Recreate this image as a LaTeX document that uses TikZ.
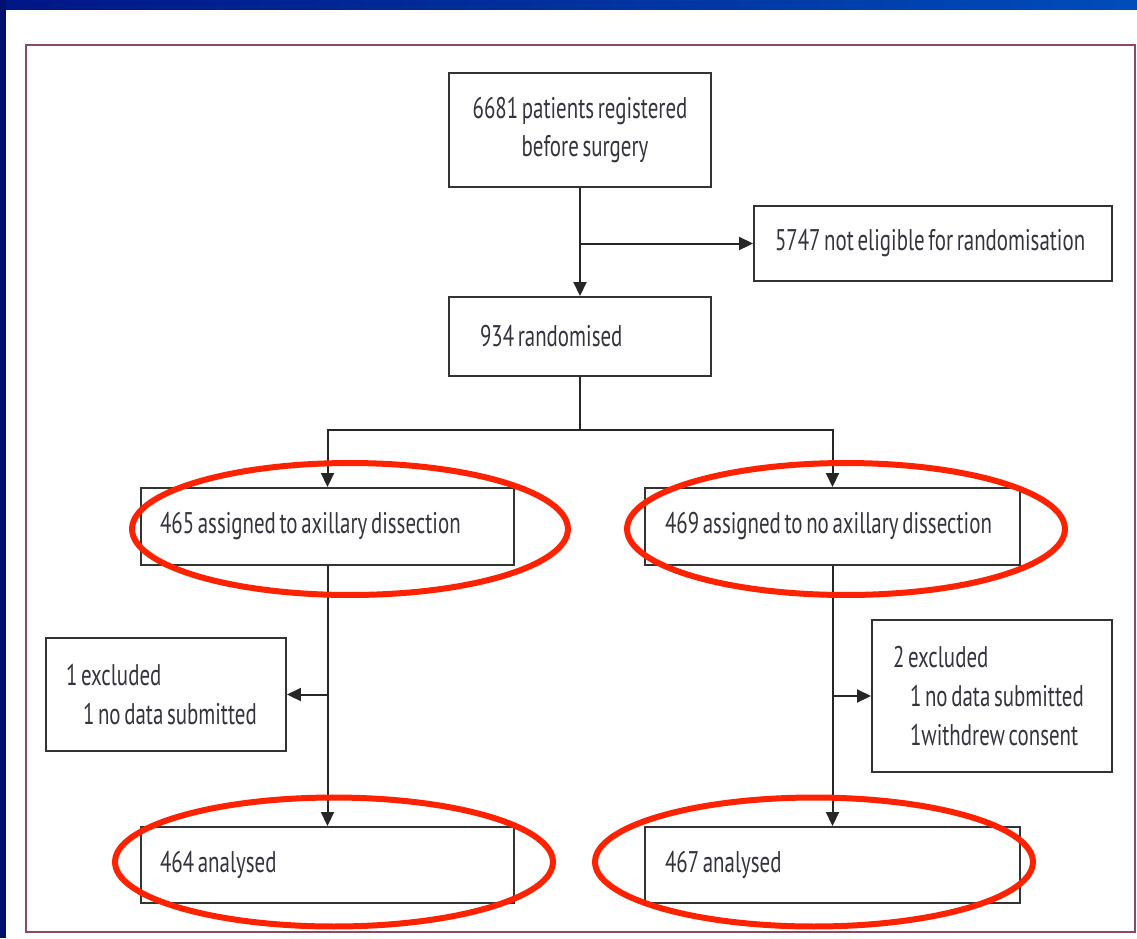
\documentclass[tikz,border=0pt]{standalone}
\usepackage{fontspec}
\setmainfont{PT Sans}[FakeStretch=0.7, WordSpace=0.65]
\usepackage{tikz}
\usetikzlibrary{arrows.meta, positioning, calc}
\definecolor{slideBlue}{HTML}{0020A8}
\definecolor{slideNavy}{HTML}{00106E}
\definecolor{frameMauve}{HTML}{8A4A66}
\definecolor{inkGrey}{HTML}{34343E}
\definecolor{ringRed}{HTML}{FF2200}
\newcommand{\boxline}[2]{\makebox[#1][l]{#2}}

\begin{document}
\begin{tikzpicture}[x=0.02cm, y=-0.02cm,
      >={Triangle[length=0.28cm, width=0.26cm]},
      flowbox/.style={draw=black!80, line width=0.04cm, rectangle,
                      text=inkGrey, align=left, minimum height=#1,
                      font=\fontsize{17}{22}\selectfont},
      flowbox/.default=1.54cm,
      link/.style={draw=black!85, line width=0.04cm},
      ring/.style={draw=ringRed, line width=0.12cm}]
    % slide background and frame
    \useasboundingbox (0,0) rectangle (1137,938);
    \fill[slideNavy] (0,0) rectangle (1137,938);
    \shade[left color=slideNavy!60!slideBlue, right color=slideBlue!80!cyan] (6,0) rectangle (1137,10);
    \fill[white] (6,10) rectangle (1137,938);
    \draw[frameMauve, line width=0.04cm] (26,45) rectangle (1135,932);
    % boxes
    \node[flowbox=2.28cm, minimum width=5.24cm, align=center] (reg) at (580,130)
        {6681 patients registered\\\hspace*{0.2cm}before surgery};
    \node[flowbox=1.5cm, inner xsep=0.42cm] (inel) at (933,243.5)
        {\boxline{6.32cm}{5747 not eligible for randomisation}};
    \node[flowbox=1.58cm, inner xsep=0.62cm] (rand) at (580,336.5)
        {\boxline{4.0cm}{934 randomised}};
    \node[flowbox, inner xsep=0.38cm] (axl) at (327.5,526.5)
        {\boxline{6.7cm}{465 assigned to axillary dissection}};
    \node[flowbox, inner xsep=0.4cm] (axr) at (832.5,526.5)
        {\boxline{6.7cm}{469 assigned to no axillary dissection}};
    \node[flowbox=2.26cm, inner xsep=0.4cm] (excl) at (166,694.5)
        {\boxline{4.0cm}{1 excluded}\\\hspace*{0.34cm}1 no data submitted};
    \node[flowbox=3.04cm, inner xsep=0.42cm] (excr) at (992,696)
        {\boxline{3.96cm}{2 excluded}\\\hspace*{0.34cm}1 no data submitted\\\hspace*{0.34cm}1withdrew consent};
    \node[flowbox=1.52cm, inner xsep=0.38cm] (anl) at (327.5,865)
        {\boxline{6.7cm}{464 analysed}};
    \node[flowbox=1.52cm, inner xsep=0.4cm] (anr) at (832.5,865)
        {\boxline{6.7cm}{467 analysed}};
    % connectors
    \coordinate (split) at (580,430);
    \draw[link, ->] (reg) -- (rand);
    \draw[link, ->] (reg.south |- inel.west) -- (inel.west);
    \draw[link] (rand) -- (split);
    \draw[link, ->] (split) -| (axl.north);
    \draw[link, ->] (split) -| (axr.north);
    \draw[link, ->] (axl) -- (anl);
    \draw[link, ->] (axl.south |- excl.east) -- (excl.east);
    \draw[link, ->] (axr) -- (anr);
    \draw[link, ->] (axr.south |- excr.west) -- (excr.west);
    % red highlight rings
    \draw[ring] (350,529) ellipse [x radius=4.36cm, y radius=1.32cm];
    \draw[ring] (846,529) ellipse [x radius=4.38cm, y radius=1.32cm];
    \draw[ring] (334,862) ellipse [x radius=4.38cm, y radius=1.29cm];
    \draw[ring] (814,862) ellipse [x radius=4.38cm, y radius=1.29cm];
  \end{tikzpicture}
\end{document}
